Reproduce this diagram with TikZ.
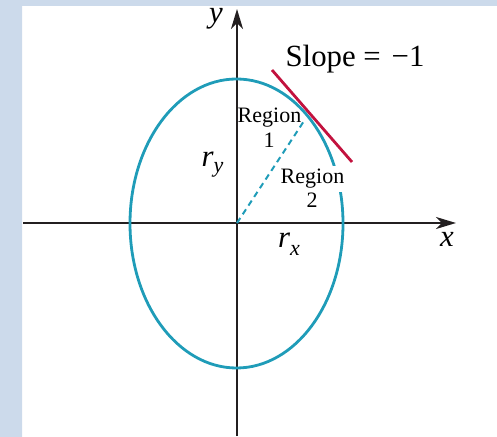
\documentclass[tikz,border=0pt]{standalone}
\usepackage{fontspec}
\setmainfont{Liberation Serif}[ItalicFont={Liberation Serif Italic},BoldFont={Liberation Serif Bold}]
\usetikzlibrary{arrows.meta}
\definecolor{ellipseteal}{HTML}{1F9CB8}
\definecolor{slopered}{HTML}{C2123E}
\definecolor{axisgray}{HTML}{231F20}
\definecolor{framesky}{HTML}{CCDAEB}
\definecolor{framelight}{HTML}{F2F6FB}

\begin{document}
\begin{tikzpicture}[
  x={(0.5pt,0pt)},
  y={(0pt,-0.5pt)},
  line join=round,
  axis/.style={draw=axisgray,line width=1pt,-{Stealth[length=10pt,width=6pt,inset=3pt]}},
  ellipseline/.style={draw=ellipseteal,line width=1.4pt},
  slopeline/.style={draw=slopered,line width=1.4pt},
  halfaxis/.style={draw=ellipseteal,line width=1pt,dash pattern=on 3pt off 2.2pt},
  labelbig/.style={font=\fontsize{15.4}{18}\selectfont,inner sep=0pt,anchor=base},
  labelsmall/.style={font=\fontsize{11}{12.5}\selectfont,inner sep=0pt,anchor=base}
]
  % Page frame: light blue strips along the top and the left edge.
  \useasboundingbox (0,0) rectangle (497,437);
  \fill[framesky] (0,0) rectangle (497,6);
  \shade[top color=framesky,middle color=framelight,bottom color=framesky] (0,6) rectangle (22,437);

  % Axis ends, tangent point and slope line ends.
  \coordinate (O) at (237,223);
  \coordinate (xstart) at (23,223);
  \coordinate (xend) at (456,223);
  \coordinate (ystart) at (237,436);
  \coordinate (yend) at (237,9);
  \coordinate (touch) at (304,121);
  \coordinate (slopeA) at (272,70);
  \coordinate (slopeB) at (352,162);

  % Axes.
  \draw[axis] (xstart) -- (xend);
  \draw[axis] (ystart) -- (yend);

  % Ellipse, radius to the slope point and the tangent.
  \draw[ellipseline] (236.5,223.5) ellipse [x radius=106.5, y radius=144.5];
  \draw[halfaxis] (O) -- (touch);
  \draw[slopeline] (slopeA) -- (slopeB);

  % Labels.
  \node[labelbig] (slope) at (355,66.5) {Slope~=~\hspace{0.1em}−1};
  \node[labelsmall] (reg1) at (269.5,123) {Region};
  \node[labelsmall] (one) at (269,148) {1};
  \node[labelsmall,fill=white,inner sep=1.5pt] (reg2) at (312.5,184) {Region};
  \node[labelsmall] (two) at (312,207.5) {2};
  \node[labelbig] (ry) at (212.5,167) {\textit{r}\raisebox{-3pt}{\fontsize{11}{11}\selectfont\textit{y}}};
  \node[labelbig] (rx) at (289,248) {\textit{r}\raisebox{-4pt}{\fontsize{11}{11}\selectfont\textit{x}}};
  \node[labelbig] (ylab) at (216,23) {\textit{y}};
  \node[labelbig] (xlab) at (447,247) {\textit{x}};
\end{tikzpicture}
\end{document}
